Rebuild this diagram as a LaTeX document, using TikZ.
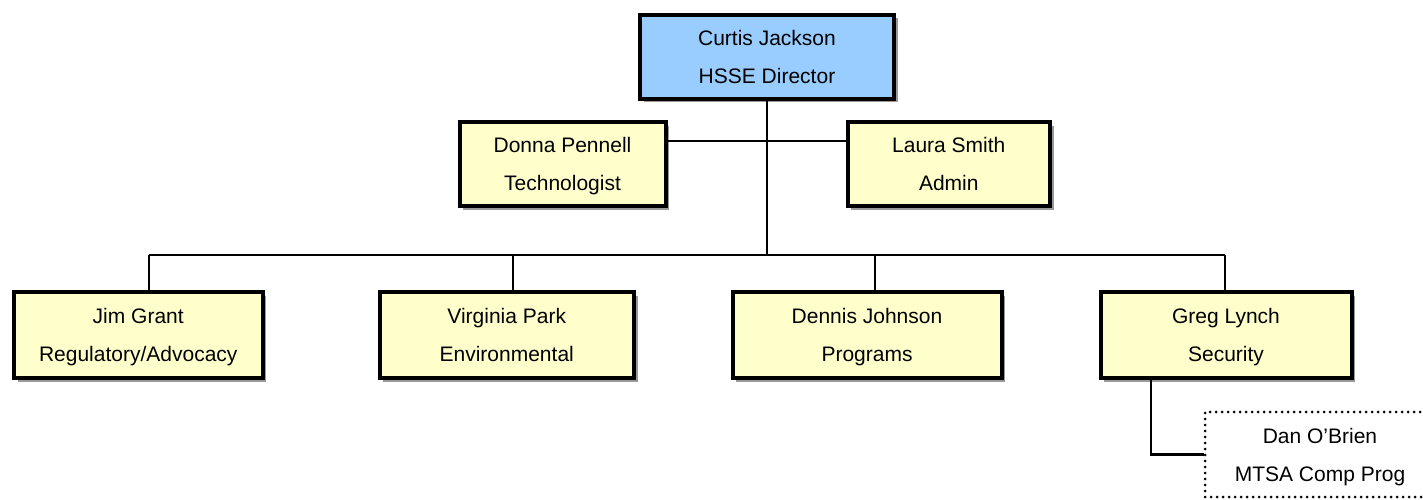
\documentclass[tikz,border=0pt]{standalone}
\usepackage{fontspec}
\setmainfont{Liberation Sans}
\usetikzlibrary{shadows,calc}
\definecolor{boxblue}{HTML}{99CCFF}
\definecolor{boxyellow}{HTML}{FFFFCC}
\newcommand\twolines[2]{\rule{0pt}{20pt}#1\\#2\rule[-5pt]{0pt}{5pt}}
\tikzset{
  person/.style={draw=black, line width=4pt, rectangle, align=center, inner sep=0pt,
    font=\fontsize{21}{38}\selectfont,
    drop shadow={shadow xshift=3.5pt, shadow yshift=-3.5pt, fill=black!40, opacity=1}},
  yellowbox/.style={person, fill=boxyellow},
  bluebox/.style={person, fill=boxblue},
  dotbox/.style={draw=black, line width=3pt, line cap=round, dash pattern=on 0pt off 6pt, rectangle,
    align=center, inner sep=0pt, font=\fontsize{21}{38}\selectfont},
  link/.style={draw=black, line width=2.2pt}
}
\begin{document}
\begin{tikzpicture}[x=1pt,y=-1pt]
\useasboundingbox (0,0) rectangle (1423,499);
\clip (0,0) rectangle (1423,499);
\fill[white] (0,0) rectangle (1423,499);

\coordinate (bus1) at (149,255);
\coordinate (bus2) at (513,255);
\coordinate (bus3) at (875,255);
\coordinate (bus4) at (1225,255);
\coordinate (trunk) at (767,255);
\coordinate (hl) at (665,141);
\coordinate (hr) at (848,141);
\coordinate (glb) at (1151,379);

\node[bluebox, minimum width=254pt, minimum height=84pt] (cj) at (767,56.5) {\twolines{Curtis Jackson}{HSSE Director}};
\node[yellowbox, minimum width=206pt, minimum height=84pt] (dp) at (562.5,164) {\twolines{Donna Pennell}{Technologist}};
\node[yellowbox, minimum width=202.5pt, minimum height=84pt] (ls) at (948.75,164) {\twolines{Laura Smith}{Admin}};

\node[yellowbox, minimum width=248.5pt, minimum height=86pt] (jg) at (138.25,335) {\twolines{Jim Grant}{Regulatory/Advocacy}};
\node[yellowbox, minimum width=254.5pt, minimum height=86pt] (vp) at (506.75,335) {\twolines{Virginia Park}{Environmental}};
\node[yellowbox, minimum width=269pt, minimum height=86pt] (dj) at (867,335) {\twolines{Dennis Johnson}{Programs}};
\node[yellowbox, minimum width=251pt, minimum height=86pt] (gl) at (1226,335) {\twolines{Greg Lynch}{Security}};

\node[dotbox, minimum width=230pt, minimum height=85pt] (dan) at (1320,454.5) {\twolines{Dan O'Brien}{MTSA Comp Prog}};

\draw[link] (cj.south) -- (trunk);
\draw[link] (dp.east |- hl) -- (ls.west |- hr);
\draw[link] (bus1) -- (bus4);
\draw[link] (bus1) -- (bus1 |- jg.north);
\draw[link] (bus2) -- (bus2 |- vp.north);
\draw[link] (bus3) -- (bus3 |- dj.north);
\draw[link] (bus4) -- (bus4 |- gl.north);
\draw[link] (gl.south -| glb) |- (dan.west);
\end{tikzpicture}
\end{document}
